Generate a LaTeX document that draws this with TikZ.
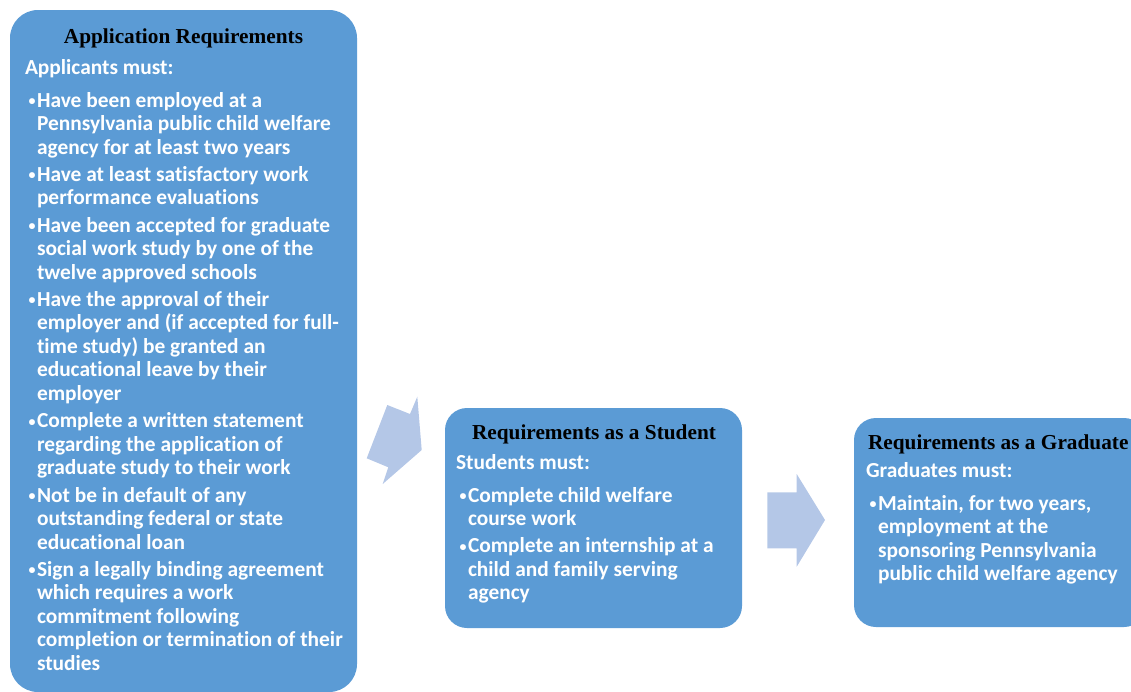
\documentclass[tikz,border=0pt]{standalone}
\usepackage{fontspec}
\setmainfont{Liberation Serif}
\newfontfamily\bodyfont{Carlito}[Ligatures=NoCommon]
\usetikzlibrary{positioning}
\definecolor{boxblue}{HTML}{5B9BD5}
\definecolor{arrowblue}{HTML}{B4C7E7}
\newcommand{\bul}{\makebox[12pt][l]{\hspace{3.5pt}\raisebox{1.5pt}{\fontsize{14}{14}\selectfont•}}}
\newcommand{\cont}{\hspace*{12pt}}

\begin{document}
\begin{tikzpicture}[x=1pt, y=-1pt,
	every node/.append style={inner sep=0pt, outer sep=0pt},
	reqbox/.style={shape=rectangle, fill=boxblue, rounded corners=#1, anchor=north west},
	reqtitle/.style={font=\fontsize{21.3}{24}\selectfont\bfseries, text=black, anchor=base},
	reqbody/.style={font=\bodyfont\bfseries\fontsize{21.4}{23.5}\selectfont, text=white, align=left, anchor=north west},
	blockarrow/.style={fill=arrowblue}]

	\useasboundingbox (0,0) rectangle (1131,691);
	\clip (0,0) rectangle (1131,691);

	% application
	\node[reqbox=28pt, minimum width=347pt, minimum height=682pt] (app) at (10,10) {};
	\node[reqtitle] (appTitle) at (183.5,43) {Application Requirements};
	\node[reqbody] (appText) at (25,57) {\rule{0pt}{17pt}Applicants must:\\[9.5pt]
		\bul Have been employed at a\\
		\cont Pennsylvania public child welfare\\
		\cont agency for at least two years\\[3.8pt]
		\bul Have at least satisfactory work\\
		\cont performance evaluations\\[3.8pt]
		\bul Have been accepted for graduate\\
		\cont social work study by one of the\\
		\cont twelve approved schools\\[3.8pt]
		\bul Have the approval of their\\
		\cont employer and (if accepted for full-\\
		\cont time study) be granted an\\
		\cont educational leave by their\\
		\cont employer\\[3.8pt]
		\bul Complete a written statement\\
		\cont regarding the application of\\
		\cont graduate study to their work\\[3.8pt]
		\bul Not be in default of any\\
		\cont outstanding federal or state\\
		\cont educational loan\\[3.8pt]
		\bul Sign a legally binding agreement\\
		\cont which requires a work\\
		\cont commitment following\\
		\cont completion or termination of their\\
		\cont studies};

	% student
	\node[reqbox=22pt, minimum width=297pt, minimum height=220pt] (stu) at (445,408) {};
	\node[reqtitle] (stuTitle) at (594,439) {Requirements as a Student};
	\node[reqbody] (stuText) at (456,452) {\rule{0pt}{17pt}Students must:\\[9.5pt]
		\bul Complete child welfare\\
		\cont course work\\[3.8pt]
		\bul Complete an internship at a\\
		\cont child and family serving\\
		\cont agency};

	% graduate
	\node[reqbox=22pt, minimum width=292pt, minimum height=209pt] (grad) at (854,418) {};
	\node[reqtitle, anchor=base west] (gradTitle) at (868,449) {Requirements as a Graduate};
	\node[reqbody] (gradText) at (866,460) {\rule{0pt}{17pt}Graduates must:\\[9.5pt]
		\bul Maintain, for two years,\\
		\cont employment at the\\
		\cont sponsoring Pennsylvania\\
		\cont public child welfare agency};

	% block arrows
	\fill[blockarrow] (366.7,458.3) -- (387.3,405) -- (410,414) -- (417.3,396.7) -- (421.7,450) -- (382.7,484) -- (388.3,467.3) -- cycle;
	\fill[blockarrow] (767.3,492.3) -- (796.7,492.3) -- (796.7,474) -- (825,520) -- (796.7,566.7) -- (796.7,548.3) -- (767.3,548.3) -- cycle;
\end{tikzpicture}
\end{document}
